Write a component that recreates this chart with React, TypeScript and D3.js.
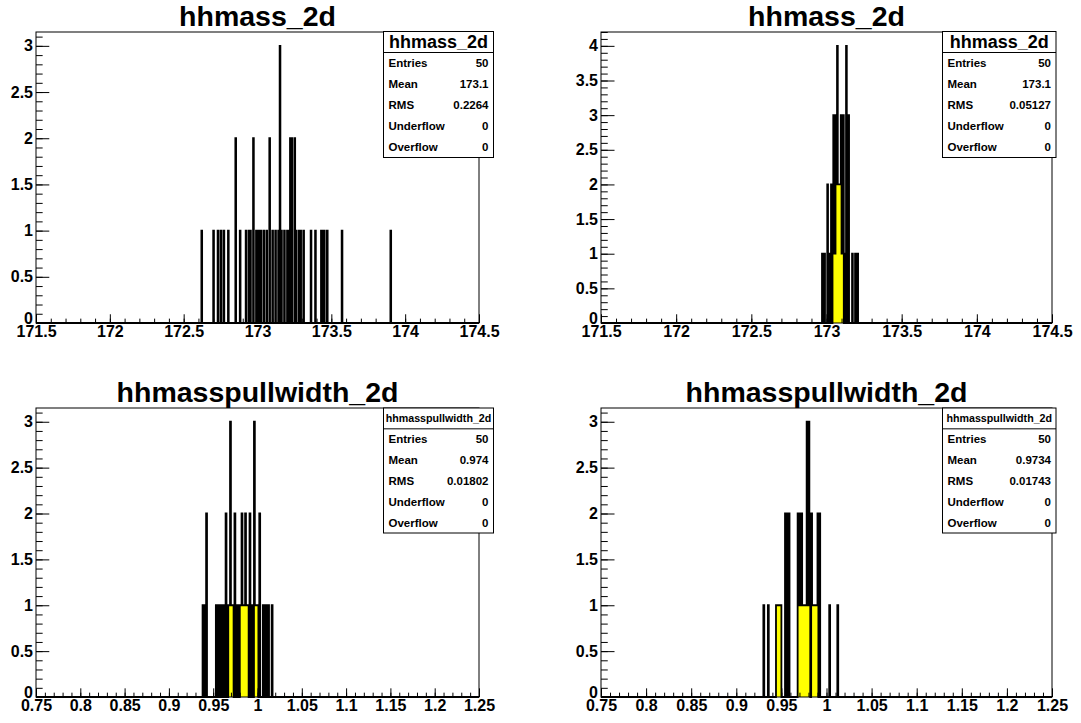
import React, { useEffect, useRef } from 'react';
import * as d3 from 'd3';

const WIDTH = 1081;
const HEIGHT = 723;
const FONT = '"Liberation Sans", Arial, Helvetica, sans-serif';

// hhmass_2d (left): bin centres (bin width 0.005) and counts
const massLeftCenters = [
  172.6225, 172.7025, 172.7325, 172.7525, 172.7725, 172.8025, 172.8525, 172.8825, 172.9225, 172.9425,
  172.9525, 172.9725, 172.9925, 173.0025, 173.0125, 173.0225, 173.0425, 173.0625, 173.0825, 173.1025,
  173.1225, 173.1425, 173.1525, 173.1625, 173.1825, 173.2025, 173.2125, 173.2225, 173.2325, 173.2525,
  173.2625, 173.2825, 173.2925, 173.3125, 173.3625, 173.3925, 173.4325, 173.4425, 173.4525, 173.4725,
  173.5725, 173.9025,
];
const massLeftCounts = [
  1, 1, 1, 1, 1, 1, 2, 1, 1, 1,
  1, 2, 1, 1, 1, 1, 1, 1, 2, 1,
  1, 1, 3, 1, 1, 1, 1, 2, 2, 2,
  1, 1, 1, 1, 1, 1, 1, 1, 1, 1,
  1, 1,
];

// hhmass_2d (right)
const massRightCenters = [
  172.9725, 172.9875, 173.0075, 173.0225, 173.0325, 173.0425, 173.0475, 173.0525, 173.0575, 173.0625,
  173.0675, 173.0725, 173.0775, 173.0825, 173.0875, 173.0925, 173.0975, 173.1025, 173.1075, 173.1125,
  173.1275, 173.1325, 173.1425, 173.1475, 173.1725, 173.1925, 173.2075,
];
const massRightCounts = [
  1, 1, 2, 1, 2, 1, 3, 1, 1, 3,
  2, 4, 2, 2, 2, 2, 3, 1, 1, 3,
  1, 4, 1, 3, 1, 1, 1,
];

// hhmasspullwidth_2d (left): bin width 0.001
const pullLeftCenters = [
  0.9385, 0.9405, 0.9425, 0.9535, 0.9565, 0.9595, 0.9615, 0.9645, 0.9675, 0.9685,
  0.9695, 0.9705, 0.9715, 0.9725, 0.9745, 0.9765, 0.9785, 0.9805, 0.9815, 0.9825,
  0.9835, 0.9845, 0.9855, 0.9865, 0.9875, 0.9885, 0.9895, 0.9915, 0.9945, 0.9965,
  0.9975, 0.9985, 0.9995, 1.0005, 1.0025, 1.0065, 1.0095, 1.0125, 1.0165,
];
const pullLeftCounts = [
  1, 1, 2, 1, 1, 1, 1, 2, 1, 1,
  3, 1, 1, 1, 2, 1, 1, 1, 1, 2,
  1, 1, 1, 2, 1, 1, 1, 2, 1, 3,
  1, 1, 1, 1, 2, 1, 1, 1, 1,
];

// hhmasspullwidth_2d (right)
const pullRightCenters = [
  0.9305, 0.9355, 0.9445, 0.9455, 0.9465, 0.9475, 0.9485, 0.9495, 0.9545, 0.9565,
  0.9585, 0.9685, 0.9695, 0.9705, 0.9715, 0.9725, 0.9735, 0.9745, 0.9755, 0.9765,
  0.9775, 0.9785, 0.9795, 0.9805, 0.9815, 0.9835, 0.9845, 0.9855, 0.9865, 0.9875,
  0.9885, 0.9895, 0.9905, 0.9925, 1.0035, 1.0125,
];
const pullRightCounts = [
  1, 1, 1, 1, 1, 1, 1, 1, 2, 2,
  2, 2, 1, 2, 1, 2, 1, 1, 1, 1,
  1, 3, 1, 3, 2, 2, 1, 1, 1, 1,
  1, 1, 2, 2, 1, 1,
];

const massTicks = [171.5, 172, 172.5, 173, 173.5, 174, 174.5];
const pullTicks = [0.75, 0.8, 0.85, 0.9, 0.95, 1, 1.05, 1.1, 1.15, 1.2, 1.25];
const yTicks3 = [0, 0.5, 1, 1.5, 2, 2.5, 3];
const yTicks4 = [0, 0.5, 1, 1.5, 2, 2.5, 3, 3.5, 4];

const statLabels = ['Entries', 'Mean', 'RMS', 'Underflow', 'Overflow'];
const massLeftStats = ['50', '173.1', '0.2264', '0', '0'];
const massRightStats = ['50', '173.1', '0.05127', '0', '0'];
const pullLeftStats = ['50', '0.974', '0.01802', '0', '0'];
const pullRightStats = ['50', '0.9734', '0.01743', '0', '0'];

const panels = [
  {
    title: 'hhmass_2d', boxTitleSize: 18, centers: massLeftCenters, counts: massLeftCounts,
    lo: 171.5, hi: 174.5, binW: 0.005, xTicks: massTicks, xMinor: 0.1, yTicks: yTicks3,
    stats: massLeftStats, frame: [36, 32, 479, 323], box: [383.5, 31.5, 493.5, 157.5], titleY: 26,
  },
  {
    title: 'hhmass_2d', boxTitleSize: 18, centers: massRightCenters, counts: massRightCounts,
    lo: 171.5, hi: 174.5, binW: 0.005, xTicks: massTicks, xMinor: 0.1, yTicks: yTicks4,
    stats: massRightStats, frame: [601, 32, 1052, 323], box: [942.5, 31.5, 1056, 157.5], titleY: 26,
  },
  {
    title: 'hhmasspullwidth_2d', boxTitleSize: 10.7, centers: pullLeftCenters, counts: pullLeftCounts,
    lo: 0.75, hi: 1.25, binW: 0.001, xTicks: pullTicks, xMinor: 0.01, yTicks: yTicks3,
    stats: pullLeftStats, frame: [36, 408, 479, 697], box: [383.5, 408, 493.5, 533], titleY: 402,
  },
  {
    title: 'hhmasspullwidth_2d', boxTitleSize: 10.7, centers: pullRightCenters, counts: pullRightCounts,
    lo: 0.75, hi: 1.25, binW: 0.001, xTicks: pullTicks, xMinor: 0.01, yTicks: yTicks3,
    stats: pullRightStats, frame: [601, 408, 1052, 697], box: [942.5, 408, 1056, 533], titleY: 402,
  },
];

function drawPanel(g: any, p: any) {
  const [fx0, fy0, fx1, fy1] = p.frame;
  const top = (d3.max(p.counts) as number) * 1.05;
  const x = d3.scaleLinear().domain([p.lo, p.hi]).range([fx0, fx1]);
  const y = d3.scaleLinear().domain([0, top]).range([fy1, fy0]);

  // fill the bins
  const nBins = Math.round((p.hi - p.lo) / p.binW);
  const content = new Array(nBins).fill(0);
  p.centers.forEach((c: number, i: number) => {
    const k = Math.floor((c - p.lo) / p.binW);
    if (k >= 0 && k < nBins) content[k] += p.counts[i];
  });
  const pts: [number, number][] = [[p.lo, 0]];
  content.forEach((c, k) => {
    pts.push([p.lo + k * p.binW, c]);
    pts.push([p.lo + (k + 1) * p.binW, c]);
  });
  pts.push([p.hi, 0]);

  g.append('rect')
    .attr('x', fx0).attr('y', fy0)
    .attr('width', fx1 - fx0).attr('height', fy1 - fy0)
    .attr('fill', '#fff');

  const area = d3.area<[number, number]>()
    .x(d => x(d[0]))
    .y0(y(0))
    .y1(d => y(d[1]));
  g.append('path').attr('d', area(pts)).attr('fill', '#ffff00').attr('stroke', 'none');

  const line = d3.line<[number, number]>().x(d => x(d[0])).y(d => y(d[1]));
  g.append('path').attr('d', line(pts)).attr('fill', 'none')
    .attr('stroke', '#000').attr('stroke-width', 1.8).attr('stroke-linejoin', 'miter');

  // axes, ROOT style: ticks point into the frame
  const xLen = 0.03 * (fy1 - fy0);
  const yLen = 0.03 * (fx1 - fx0);
  const xMinorTicks = d3.range(0, Math.round((p.hi - p.lo) / p.xMinor) + 1).map(i => p.lo + i * p.xMinor);
  const yMinorTicks = d3.range(0, Math.floor(top / 0.1 + 1e-6) + 1).map(i => i * 0.1);

  const xMinor = g.append('g').attr('transform', `translate(0,${fy1})`)
    .call(d3.axisBottom(x).tickValues(xMinorTicks).tickFormat(() => '').tickSize(-xLen / 2).tickSizeOuter(0));
  xMinor.select('.domain').remove();
  const xMajor = g.append('g').attr('transform', `translate(0,${fy1})`)
    .call(d3.axisBottom(x).tickValues(p.xTicks).tickFormat(d => String(d)).tickSize(-xLen).tickSizeOuter(0).tickPadding(3));
  xMajor.select('.domain').remove();
  xMajor.selectAll('text')
    .attr('font-family', FONT).attr('font-size', 16).attr('font-weight', 'bold').attr('fill', '#000');

  const yMinor = g.append('g').attr('transform', `translate(${fx0},0)`)
    .call(d3.axisLeft(y).tickValues(yMinorTicks).tickFormat(() => '').tickSize(-yLen / 2).tickSizeOuter(0));
  yMinor.select('.domain').remove();
  const yMajor = g.append('g').attr('transform', `translate(${fx0},0)`)
    .call(d3.axisLeft(y).tickValues(p.yTicks).tickFormat(d => String(d)).tickSize(-yLen).tickSizeOuter(0).tickPadding(3));
  yMajor.select('.domain').remove();
  yMajor.selectAll('text')
    .attr('font-family', FONT).attr('font-size', 16).attr('font-weight', 'bold').attr('fill', '#000')
    .attr('dy', (d: number) => (d === 0 ? '0.05em' : '0.32em'));

  g.append('rect')
    .attr('x', fx0).attr('y', fy0)
    .attr('width', fx1 - fx0).attr('height', fy1 - fy0)
    .attr('fill', 'none').attr('stroke', '#000').attr('stroke-width', 1);

  // title
  g.append('text')
    .attr('x', (fx0 + fx1) / 2).attr('y', p.titleY)
    .attr('text-anchor', 'middle')
    .attr('font-family', FONT).attr('font-size', 28.5).attr('font-weight', 'bold')
    .text(p.title);

  // stats box
  const [bx0, by0, bx1, by1] = p.box;
  const rowH = (by1 - by0) / 6;
  g.append('rect')
    .attr('x', bx0).attr('y', by0)
    .attr('width', bx1 - bx0).attr('height', by1 - by0)
    .attr('fill', '#fff').attr('stroke', '#000').attr('stroke-width', 1);
  g.append('line')
    .attr('x1', bx0).attr('x2', bx1).attr('y1', by0 + rowH).attr('y2', by0 + rowH)
    .attr('stroke', '#000').attr('stroke-width', 1);
  g.append('text')
    .attr('x', (bx0 + bx1) / 2).attr('y', by0 + rowH / 2)
    .attr('dy', '0.36em').attr('text-anchor', 'middle')
    .attr('font-family', FONT).attr('font-size', p.boxTitleSize).attr('font-weight', 'bold')
    .text(p.title);
  statLabels.forEach((lab, i) => {
    const cy = by0 + rowH * (i + 1.5);
    g.append('text')
      .attr('x', bx0 + 5).attr('y', cy).attr('dy', '0.36em')
      .attr('font-family', FONT).attr('font-size', 11.5).attr('font-weight', 'bold')
      .text(lab);
    g.append('text')
      .attr('x', bx1 - 5).attr('y', cy).attr('dy', '0.36em').attr('text-anchor', 'end')
      .attr('font-family', FONT).attr('font-size', 11.5).attr('font-weight', 'bold')
      .text(p.stats[i]);
  });
}

export default function App() {
  const svgRef = useRef<SVGSVGElement>(null);

  useEffect(() => {
    if (!svgRef.current) return;
    const svg = d3.select(svgRef.current);
    svg.selectAll('*').remove();
    svg.append('rect').attr('width', WIDTH).attr('height', HEIGHT).attr('fill', '#fff');
    panels.forEach(p => drawPanel(svg.append('g'), p));
  }, []);

  return (
    <svg
      ref={svgRef}
      width={WIDTH}
      height={HEIGHT}
      style={{ position: 'absolute', left: 0, top: 0, display: 'block' }}
    />
  );
}
